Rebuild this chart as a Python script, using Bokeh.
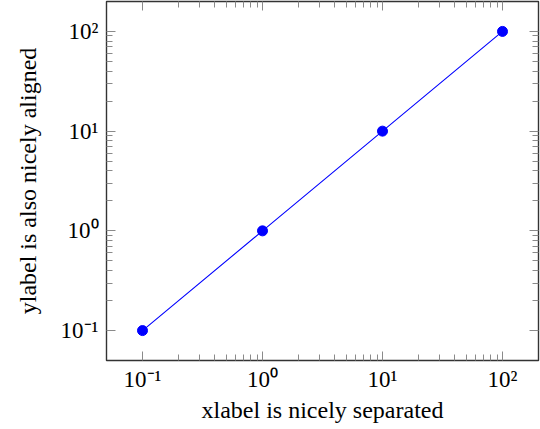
from bokeh.plotting import figure
from bokeh.models import LogAxis, FixedTicker, Range1d
from bokeh.embed import file_html
from bokeh.resources import INLINE

# ---- data ----
x_values = [0.1, 1, 10, 100]
y_values = [0.1, 1, 10, 100]
major_ticks = [0.1, 1, 10, 100]
tick_labels = ["10\u207b\u00b9", "10\u2070", "10\u00b9", "10\u00b2"]
x_label = "xlabel is nicely separated"
y_label = "ylabel is also nicely aligned"
axis_min, axis_max = 10 ** -1.3, 10 ** 2.3

minor_ticks = [m * d for d in major_ticks[:-1] for m in range(2, 10)]

FONT = "Liberation Serif"
TICK_COLOR = "#8a8a8a"

p = figure(width=540, height=429, x_axis_type="log", y_axis_type="log",
           x_range=Range1d(axis_min, axis_max), y_range=Range1d(axis_min, axis_max),
           output_backend="svg", toolbar_location=None,
           min_border_left=106, min_border_right=2, min_border_top=1, min_border_bottom=69)
p.background_fill_color = "white"
p.border_fill_color = "white"
p.xgrid.visible = False
p.ygrid.visible = False
p.outline_line_color = "#333333"
p.outline_line_width = 1.4


def style_axis(ax, show_labels):
    ax.ticker = FixedTicker(ticks=major_ticks, minor_ticks=minor_ticks)
    ax.axis_line_color = None
    ax.major_tick_in = 9
    ax.major_tick_out = 0
    ax.minor_tick_in = 6
    ax.minor_tick_out = 0
    ax.major_tick_line_color = TICK_COLOR
    ax.minor_tick_line_color = TICK_COLOR
    ax.major_tick_line_width = 1
    ax.minor_tick_line_width = 1
    if show_labels:
        ax.major_label_overrides = {t: l for t, l in zip(major_ticks, tick_labels)}
        ax.major_label_text_font = FONT
        ax.major_label_text_font_size = "23px"
        ax.major_label_text_color = "black"
        ax.axis_label_text_font = FONT
        ax.axis_label_text_font_size = "24px"
        ax.axis_label_text_font_style = "normal"
        ax.axis_label_text_color = "black"
    else:
        ax.major_label_text_font_size = "0px"
        ax.major_label_standoff = 0
        ax.major_label_text_alpha = 0


style_axis(p.xaxis[0], True)
style_axis(p.yaxis[0], True)
p.xaxis[0].axis_label = x_label
p.yaxis[0].axis_label = y_label
p.xaxis[0].major_label_standoff = 6
p.xaxis[0].axis_label_standoff = 2
p.yaxis[0].major_label_standoff = 8
p.yaxis[0].axis_label_standoff = 17

top_axis = LogAxis()
right_axis = LogAxis()
style_axis(top_axis, False)
style_axis(right_axis, False)
p.add_layout(top_axis, "above")
p.add_layout(right_axis, "right")

p.line(x_values, y_values, line_color="#0000ff", line_width=1.1)
p.scatter(x_values, y_values, size=10, fill_color="#0000ff", line_color="#0000ff")

open("out.html", "w").write(file_html(p, INLINE))
